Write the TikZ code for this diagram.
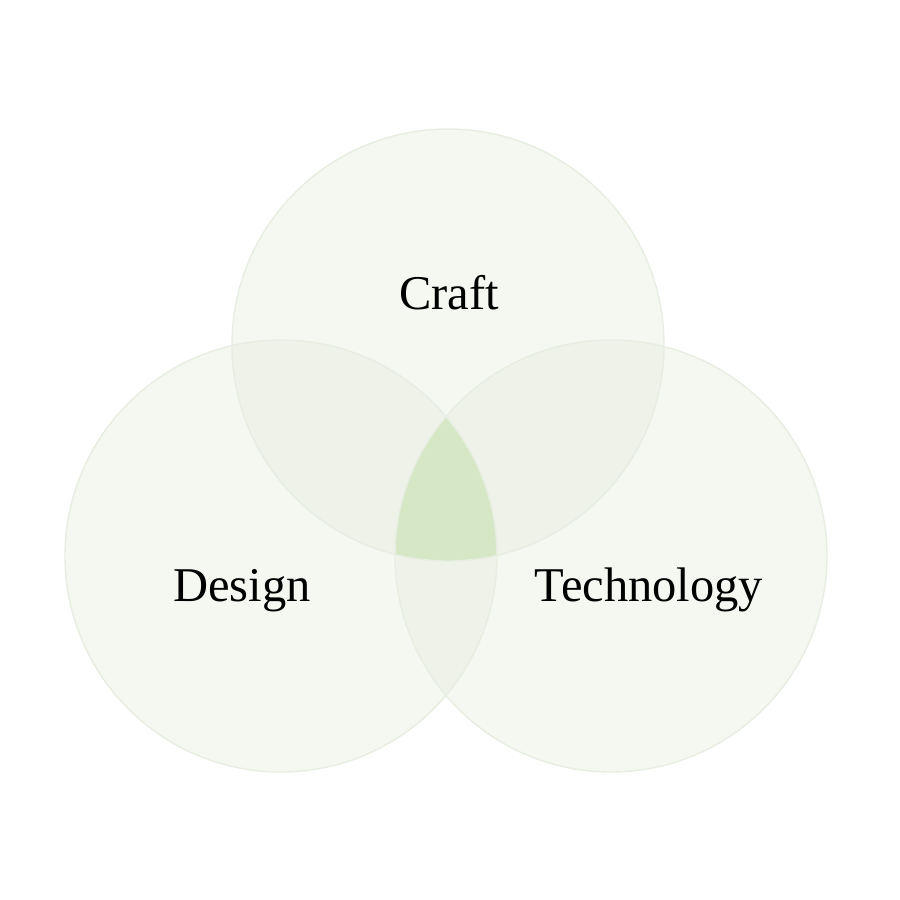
\documentclass[tikz,border=0pt]{standalone}
\usepackage{fontspec}
\setmainfont{Liberation Serif}
\usetikzlibrary{positioning}

\definecolor{onefill}{RGB}{244,248,240}
\definecolor{twofill}{RGB}{238,242,233}
\definecolor{threefill}{RGB}{213,231,197}
\definecolor{rimline}{RGB}{231,238,225}

\tikzset{
  setlabel/.style={anchor=base, font=\fontsize{13.8}{16}\selectfont, text=black}
}

\begin{document}
\begin{tikzpicture}
      \useasboundingbox[fill=white] (0,0) rectangle (9,-9);

      % Centres and radius of the three sets
      \def\rad{2.16}
      \coordinate (craft) at (4.48,-3.45);
      \coordinate (design) at (2.81,-5.56);
      \coordinate (tech) at (6.11,-5.56);

      % Single sets
      \foreach \c in {craft,design,tech} {
        \fill[onefill] (\c) circle (\rad);
      }

      % Pairwise overlaps
      \begin{scope}
        \clip (craft) circle (\rad);
        \fill[twofill] (design) circle (\rad);
        \fill[twofill] (tech) circle (\rad);
      \end{scope}
      \begin{scope}
        \clip (design) circle (\rad);
        \fill[twofill] (tech) circle (\rad);
      \end{scope}

      % Centre where all three meet
      \begin{scope}
        \clip (craft) circle (\rad);
        \clip (design) circle (\rad);
        \fill[threefill] (tech) circle (\rad);
      \end{scope}

      % Rims
      \foreach \c in {craft,design,tech} {
        \draw[rimline,line width=0.4pt] (\c) circle (\rad);
      }

      % Labels
      \node[setlabel] (craftlabel) at (4.49,-3.09) {Craft};
      \node[setlabel] (designlabel) at (2.42,-6.01) {Design};
      \node[setlabel] (techlabel) at (6.49,-6.01) {Technology};
    \end{tikzpicture}
\end{document}
